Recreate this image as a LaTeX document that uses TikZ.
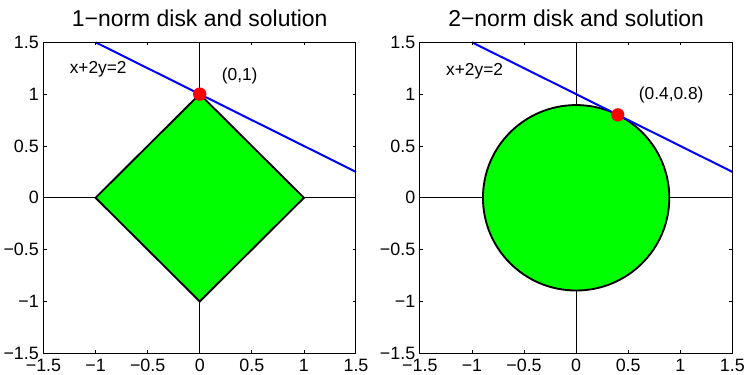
\documentclass[tikz,border=0pt]{standalone}
\usepackage{fontspec}
\setmainfont{Liberation Sans}
\usetikzlibrary{positioning}

\definecolor{mgreen}{rgb}{0,1,0}
\definecolor{mblue}{rgb}{0,0,1}
\definecolor{mred}{rgb}{1,0,0}

\begin{document}
\begin{tikzpicture}[
  every node/.style={font=\fontsize{13.4}{16}\selectfont, inner sep=0pt},
  frame/.style   ={draw, line width=0.75pt},
  zeroline/.style={draw, line width=0.6pt},
  tick/.style    ={draw, line width=0.6pt},
  disk/.style    ={draw, fill=mgreen, line width=1.4pt, line join=miter},
  cons/.style    ={draw, mblue, line width=1.5pt},
  dot/.style     ={circle, fill=mred, minimum size=10pt},
  ttl/.style     ={font=\fontsize{17.2}{20}\selectfont, anchor=base},
  lbl/.style     ={font=\fontsize{13}{15}\selectfont, anchor=west},
  xlbl/.style    ={anchor=north, yshift=-4.4pt},
  ylbl/.style    ={anchor=east, xshift=-3.3pt},
  x=78.13pt, y=77.75pt
]
\useasboundingbox (0,0) rectangle (558pt,281.25pt);

%% ---- 1-norm panel (left) -------------------------------------------
\begin{scope}[xshift=149.8pt, yshift=132.9pt]
\draw[zeroline] (-1.5,0) -- (1.5,0);
\draw[zeroline] (0,-1.5) -- (0,1.5);
\draw[disk] (1,0) -- (0,1) -- (-1,0) -- (0,-1) -- cycle;
\draw[cons] (-1,1.5) -- (1.5,0.25);
\node[dot] (sol1) at (0,1) {};

% frame and ticks
\draw[frame] (-1.5,-1.5) rectangle (1.5,1.5);
\foreach \v in {-1,-0.5,0,0.5,1} {
  \draw[tick] (\v,-1.5) -- ++(0,2.4pt);
  \draw[tick] (\v,1.5)  -- ++(0,-2.4pt);
  \draw[tick] (-1.5,\v) -- ++(2.4pt,0);
  \draw[tick] (1.5,\v)  -- ++(-2.4pt,0);
}
\foreach \v/\t [count=\i] in {-1.5/−1.5, -1/−1, -0.5/−0.5, 0/0, 0.5/0.5, 1/1, 1.5/1.5} {
  \node[xlbl] (xa\i) at (\v,-1.5) {\t};
  \node[ylbl] (ya\i) at (-1.5,\v) {\t};
}

\node[ttl] (title1) at (0,1.5) [yshift=11.5pt] {1−norm disk and solution};
\node[lbl] (eq1)  at (-1.25,1.24) {x+2y=2};
\node[lbl] (pt1)  at (0.21,1.17)  {(0,1)};
\end{scope}

%% ---- 2-norm panel (right) ------------------------------------------
\begin{scope}[xshift=432.1pt, yshift=132.9pt]
\draw[zeroline] (-1.5,0) -- (1.5,0);
\draw[zeroline] (0,-1.5) -- (0,1.5);
\draw[disk] (0,0) circle (0.8944);
\draw[cons] (-1,1.5) -- (1.5,0.25);
\node[dot] (sol2) at (0.4,0.8) {};

% frame and ticks
\draw[frame] (-1.5,-1.5) rectangle (1.5,1.5);
\foreach \v in {-1,-0.5,0,0.5,1} {
  \draw[tick] (\v,-1.5) -- ++(0,2.4pt);
  \draw[tick] (\v,1.5)  -- ++(0,-2.4pt);
  \draw[tick] (-1.5,\v) -- ++(2.4pt,0);
  \draw[tick] (1.5,\v)  -- ++(-2.4pt,0);
}
\foreach \v/\t [count=\i] in {-1.5/−1.5, -1/−1, -0.5/−0.5, 0/0, 0.5/0.5, 1/1, 1.5/1.5} {
  \node[xlbl] (xb\i) at (\v,-1.5) {\t};
  \node[ylbl] (yb\i) at (-1.5,\v) {\t};
}

\node[ttl] (title2) at (0,1.5) [yshift=11.5pt] {2−norm disk and solution};
\node[lbl] (eq2)  at (-1.25,1.22) {x+2y=2};
\node[lbl] (pt2)  at (0.6,0.99)   {(0.4,0.8)};
\end{scope}

\end{tikzpicture}
\end{document}
